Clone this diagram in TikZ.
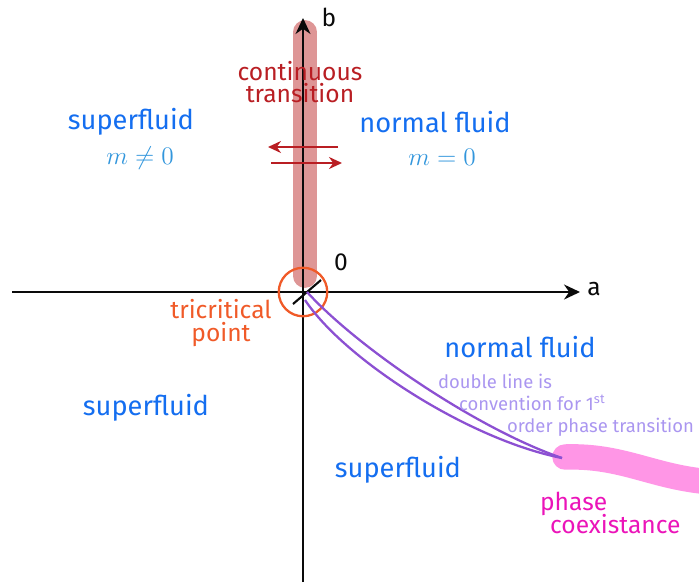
\documentclass[tikz,border=0pt]{standalone}
\usepackage{fontspec}
\setmainfont{Fira Sans}
\usepackage{tikz}
\usetikzlibrary{arrows.meta,positioning,calc}
\definecolor{axisblack}{RGB}{10,10,10}
\definecolor{fluidblue}{RGB}{20,110,240}
\definecolor{orderblue}{RGB}{50,150,220}
\definecolor{trandred}{RGB}{185,30,35}
\definecolor{bandred}{RGB}{222,150,150}
\definecolor{tricorange}{RGB}{240,90,40}
\definecolor{firstpurple}{RGB}{140,80,210}
\definecolor{notepurple}{RGB}{170,150,240}
\definecolor{coexpink}{RGB}{255,150,230}
\definecolor{coexmagenta}{RGB}{235,20,185}

\begin{document}
\begin{tikzpicture}[x=0.02cm, y=-0.02cm,
    lbl/.style={font=\fontsize{14}{15}\selectfont, align=center, inner sep=1pt},
    phase/.style={lbl, font=\fontsize{15.5}{17}\selectfont, text=fluidblue},
    param/.style={lbl, text=orderblue},
    axis/.style={-{Stealth[length=3.2mm, width=3mm]}, line width=1.2pt, axisblack},
    band/.style={line width=13.5pt, line cap=round},
    flow/.style={-{Stealth[length=2.6mm, width=2.4mm]}, line width=1.2pt, trandred},
    firstorder/.style={line width=1.3pt, firstpurple}
]
    \useasboundingbox (0,0) rectangle (699,582);

    % points of the phase diagram
    \coordinate (O) at (303,292);
    \coordinate (xstart) at (12,292);
    \coordinate (xend) at (580,292);
    \coordinate (ystart) at (303,582);
    \coordinate (yend) at (303,18);
    \coordinate (bandtop) at (305,32);
    \coordinate (bandlow) at (305,276);
    \coordinate (tcp) at (562,458);
    \coordinate (coexend) at (712,482);

    % continuous transition line and coexistence band
    \draw[band, bandred] (bandtop) -- (bandlow);
    \draw[band, coexpink, line width=14.5pt] (565,457) to[out=2, in=176] (coexend);

    % axes
    \draw[axis] (xstart) -- (xend);
    \draw[axis] (ystart) -- (yend);
    \node[lbl, axisblack] (alabel) at (594,289) {a};
    \node[lbl, axisblack] (blabel) at (329,17) {b};
    \node[lbl, axisblack] (zero) at (341,262) {0};

    % tricritical point
    \node[circle, draw=tricorange, line width=1.3pt, minimum size=0.97cm, inner sep=0pt] (tricrit) at (O) {};
    \draw[line width=1.2pt, axisblack] (293,304) -- (321,280);

    % first order line, drawn as a double line
    \draw[firstorder] (307,292) .. controls (360,350) and (480,430) .. (tcp);
    \draw[firstorder] (305,300) .. controls (345,360) and (470,440) .. (tcp);

    % arrows across the continuous transition
    \coordinate (lfrom) at (338,147);
    \coordinate (lto) at (268,147);
    \coordinate (rfrom) at (271,163);
    \coordinate (rto) at (342,163);
    \draw[flow] (lfrom) -- (lto);
    \draw[flow] (rfrom) -- (rto);

    % labels
    \node[lbl, text=trandred] (cont) at (300,82) {continuous\\[-2pt]transition};
    \node[phase] (sfup) at (131,122) {superfluid};
    \node[param] (mnz) at (140,158) {$m \neq 0$};
    \node[phase] (nfup) at (435,122) {normal fluid};
    \node[param] (mz) at (442,157) {$m = 0$};
    \node[lbl, text=tricorange] (tclabel) at (221,323) {tricritical\\[-2pt]point};
    \node[phase] (nfdown) at (520,347) {normal fluid};
    \node[lbl, text=notepurple, align=left, anchor=north west, font=\fontsize{10.5}{12.5}\selectfont]
        (note) at (436,372) {double line is\\\hspace*{0.42cm}convention for 1\textsuperscript{st}\\\hspace*{1.38cm}order phase transition};
    \node[phase] (sfleft) at (146,408) {superfluid};
    \node[phase] (sfright) at (398,470) {superfluid};
    \node[lbl, text=coexmagenta, align=left, anchor=north west] (coex) at (538,490) {phase\\[-2pt]\hspace*{0.2cm}coexistance};
\end{tikzpicture}
\end{document}
